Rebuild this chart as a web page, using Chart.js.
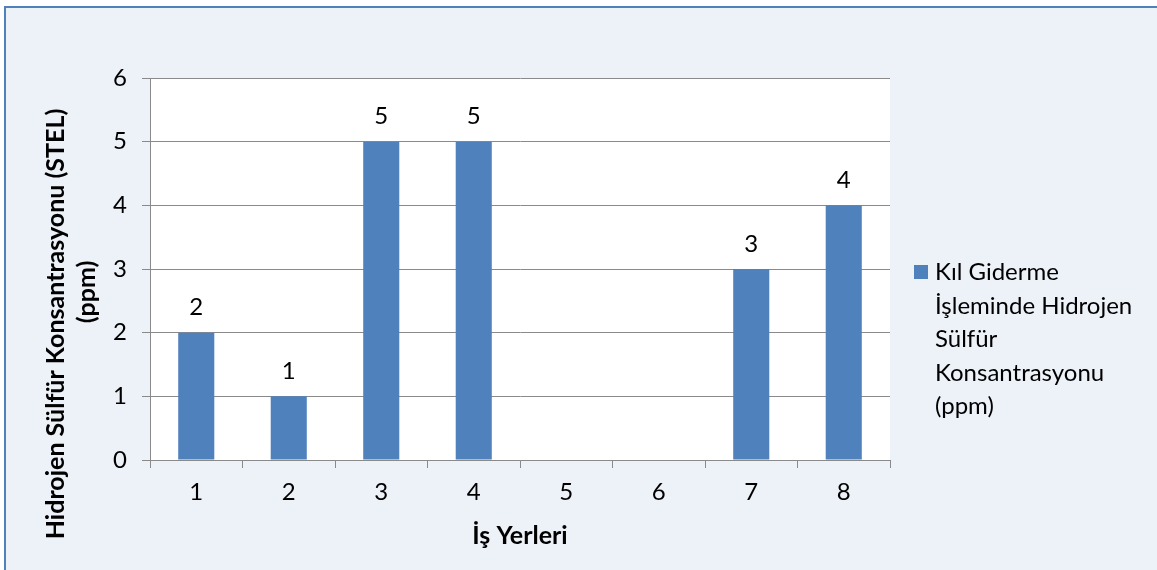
<!DOCTYPE html>
<html>
<head>
<meta charset="utf-8">
<style>
  html, body { margin: 0; padding: 0; background: #ffffff; }
  #wrap { width: 1157px; height: 570px; position: relative; }
</style>
<script src="https://cdn.jsdelivr.net/npm/chart.js@4/dist/chart.umd.min.js"></script>
</head>
<body>
<div id="wrap"><canvas id="c" width="1157" height="570"></canvas></div>
<script>
// Workplaces (İş Yerleri) and the measured H2S STEL concentration (ppm)
const categories = ['1', '2', '3', '4', '5', '6', '7', '8'];
const concentration = [2, 1, 5, 5, null, null, 3, 4];
const yTicks = [0, 1, 2, 3, 4, 5, 6];
const seriesName = ['Kıl Giderme', 'İşleminde Hidrojen', 'Sülfür', 'Konsantrasyonu', '(ppm)'];
const yTitle = ['Hidrojen Sülfür Konsantrasyonu (STEL)', '(ppm)'];
const xTitle = 'İş Yerleri';

const FONT = 'Lato, "Open Sans", sans-serif';
const BAR = '#4F81BD';
const BG = '#EDF1F8';
const GRID = '#8A8A8A';

// Frame, panel background and white plotting area
const framePlugin = {
  id: 'frame',
  beforeDraw(chart) {
    const { ctx, chartArea: a, width, height } = chart;
    ctx.save();
    ctx.fillStyle = '#ffffff';
    ctx.fillRect(0, 0, width, height);
    ctx.fillStyle = BG;
    ctx.fillRect(6, 8, width - 6, height - 8);
    ctx.fillStyle = BAR;
    ctx.fillRect(4, 6, 2, height - 6);
    ctx.fillRect(4, 6, width - 4, 2);
    ctx.fillStyle = '#ffffff';
    ctx.fillRect(a.left, a.top, a.right - a.left, a.bottom - a.top);
    ctx.restore();
  }
};

// Value labels, axis titles and the wrapped legend
const textPlugin = {
  id: 'texts',
  afterDatasetsDraw(chart) {
    const { ctx } = chart;
    const meta = chart.getDatasetMeta(0);
    ctx.save();
    ctx.fillStyle = '#000';
    ctx.font = '24px ' + FONT;
    ctx.textAlign = 'center';
    ctx.textBaseline = 'middle';
    meta.data.forEach((bar, i) => {
      const v = concentration[i];
      if (v === null || v === undefined) return;
      ctx.fillText(String(v), bar.x, bar.y - 25);
    });
    ctx.restore();
  },
  afterDraw(chart) {
    const { ctx } = chart;
    ctx.save();
    ctx.fillStyle = '#000';
    // y-axis title, rotated
    ctx.font = 'bold 25px ' + FONT;
    ctx.textAlign = 'center';
    ctx.textBaseline = 'middle';
    ctx.save();
    ctx.rotate(-Math.PI / 2);
    ctx.fillText(yTitle[0], -324, 56);
    ctx.fillText(yTitle[1], -292, 87);
    ctx.restore();
    // x-axis title
    const a = chart.chartArea;
    ctx.fillText(xTitle, (a.left + a.right) / 2, 536);
    // legend
    ctx.fillStyle = BAR;
    ctx.fillRect(914, 265, 14, 14);
    ctx.fillStyle = '#000';
    ctx.font = '24px ' + FONT;
    ctx.textAlign = 'left';
    ctx.textBaseline = 'alphabetic';
    seriesName.forEach((line, i) => {
      ctx.fillText(line, 935, 280 + i * 33.5);
    });
    ctx.restore();
  }
};

new Chart(document.getElementById('c'), {
  type: 'bar',
  data: {
    labels: categories,
    datasets: [{
      label: seriesName.join(' '),
      data: concentration,
      backgroundColor: BAR,
      borderWidth: 0,
      categoryPercentage: 1,
      barPercentage: 0.39
    }]
  },
  options: {
    responsive: false,
    animation: false,
    devicePixelRatio: 1,
    layout: { padding: { left: 0, top: 78, right: 267, bottom: 0 } },
    plugins: {
      legend: { display: false },
      tooltip: { enabled: false }
    },
    scales: {
      x: {
        afterFit(s) { s.height = 110; },
        grid: {
          offset: true,
          drawOnChartArea: false,
          drawTicks: true,
          tickLength: 8,
          color: GRID,
          lineWidth: 1
        },
        border: { display: true, color: GRID, width: 1 },
        ticks: {
          color: '#000',
          padding: 10,
          font: { family: FONT, size: 24 }
        }
      },
      y: {
        min: 0,
        max: 6,
        afterFit(s) { s.width = 150; },
        afterBuildTicks(s) { s.ticks = yTicks.map(v => ({ value: v })); },
        grid: {
          color: GRID,
          lineWidth: 1,
          tickLength: 8
        },
        border: { display: true, color: GRID, width: 1 },
        ticks: {
          color: '#000',
          padding: 15,
          font: { family: FONT, size: 24 }
        }
      }
    }
  },
  plugins: [framePlugin, textPlugin]
});
</script>
</body>
</html>
